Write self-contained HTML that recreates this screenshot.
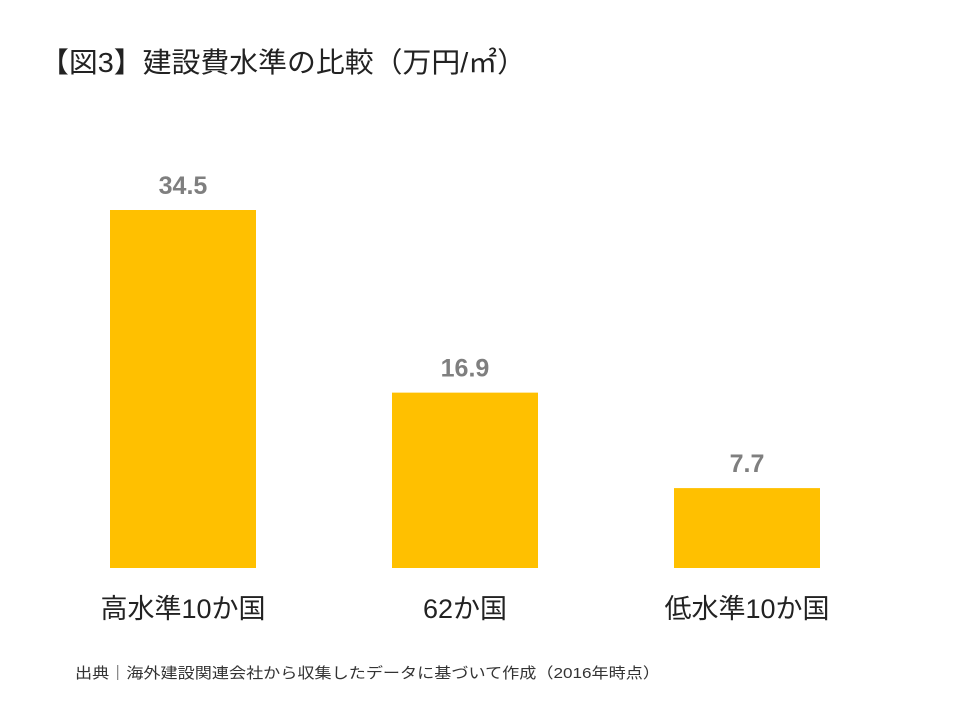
<!DOCTYPE html>
<html><head><meta charset="utf-8"><style>
body{margin:0;background:#fff;}
svg{display:block;font-family:"Liberation Sans","Noto Sans CJK JP",sans-serif;}
</style></head><body>
<svg width="960" height="720" id="c">
<text x="40" y="72" font-size="28" fill="#222" textLength="486" lengthAdjust="spacingAndGlyphs">【図3】建設費水準の比較（万円/㎡）</text>
<text x="75" y="678" font-size="15" fill="#333" textLength="585" lengthAdjust="spacingAndGlyphs">出典｜海外建設関連会社から収集したデータに基づいて作成（2016年時点）</text>
</svg>
<script>
const categories=["高水準10か国","62か国","低水準10か国"];
const values=[34.5,16.9,7.7];
const labels=["34.5","16.9","7.7"];
const svg=document.getElementById('c');
const NS="http://www.w3.org/2000/svg";
const base=568, scale=358/34.5, barW=146, x0=110, step=282;
const y=v=>base-v*scale;
values.forEach((v,i)=>{
  const r=document.createElementNS(NS,'rect');
  
  
  r.setAttribute('x',x0+i*step);r.setAttribute('y',y(v));
  r.setAttribute('width',barW);r.setAttribute('height',base-y(v));
  r.setAttribute('fill','#FFC000');svg.appendChild(r);
  const t=document.createElementNS(NS,'text');
  
  
  t.setAttribute('x',x0+i*step+barW/2);t.setAttribute('y',y(v)-16);
  t.setAttribute('text-anchor','middle');t.setAttribute('font-size','25');
  t.setAttribute('font-weight','bold');t.setAttribute('fill','#7f7f7f');
  t.textContent=labels[i];svg.appendChild(t);
  const c=document.createElementNS(NS,'text');
  
  
  c.setAttribute('x',x0+i*step+barW/2);c.setAttribute('y',618);
  c.setAttribute('text-anchor','middle');c.setAttribute('font-size','27');
  c.setAttribute('fill','#222');
  c.textContent=categories[i];svg.appendChild(c);
});
</script>
</body></html>
